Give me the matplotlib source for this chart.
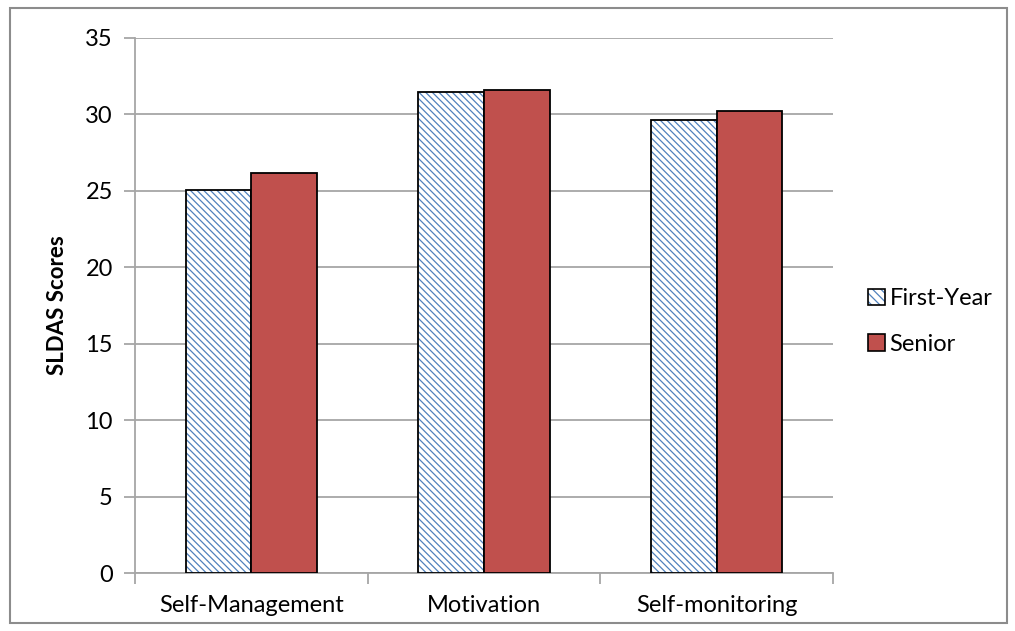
import numpy as np
import matplotlib.pyplot as plt
from matplotlib.patches import Rectangle

plt.rcParams['font.family'] = ['Lato', 'DejaVu Sans']
plt.rcParams['hatch.linewidth'] = 0.9

categories = ['Self-Management', 'Motivation', 'Self-monitoring']
first_year = [25.05, 31.45, 29.65]
senior = [26.15, 31.6, 30.2]
yticks = [0, 5, 10, 15, 20, 25, 30, 35]

grid_col = '#a6a6a6'
red = '#c0504d'
blue = '#4f81bd'
fs = 17

fig = plt.figure(figsize=(10.15, 6.31), dpi=100)
ax = fig.add_axes([0.133, 0.0919, 0.6877, 0.8479])

x = np.arange(len(categories))
w = 0.282
ax.bar(x - w / 2, first_year, w, facecolor='white', edgecolor=blue,
       hatch='\\' * 5, linewidth=0, zorder=3)
ax.bar(x - w / 2, first_year, w, facecolor='none', edgecolor='black',
       linewidth=1.3, zorder=4)
ax.bar(x + w / 2, senior, w, facecolor=red, edgecolor='black',
       linewidth=1.3, zorder=4)

ax.set_xlim(-0.5, 2.5)
ax.set_ylim(0, 35)
ax.set_yticks(yticks)
ax.set_yticklabels([str(v) for v in yticks], fontsize=fs)
ax.yaxis.grid(True, color=grid_col, linewidth=1.3, zorder=0)
ax.set_axisbelow(True)

# category labels centred, ticks on the boundaries
ax.set_xticks(x)
ax.set_xticklabels(categories, fontsize=fs)
ax.tick_params(axis='x', length=0, pad=16)
ax.set_xticks([-0.5, 0.5, 1.5, 2.5], minor=True)
ax.tick_params(axis='x', which='minor', length=8, color=grid_col, width=1.3)
ax.tick_params(axis='y', length=8, color=grid_col, width=1.3, pad=8)

for s in ['top', 'right']:
    ax.spines[s].set_visible(False)
for s in ['left', 'bottom']:
    ax.spines[s].set_color(grid_col)
    ax.spines[s].set_linewidth(1.3)

ax.set_ylabel('SLDAS Scores', fontsize=16, fontweight='bold', labelpad=12)

# legend swatches: hatched fill under a black outline
h1_fill = Rectangle((0, 0), 1, 1, facecolor='white', edgecolor=blue,
                    hatch='\\' * 4, linewidth=0)
h1_edge = Rectangle((0, 0), 1, 1, facecolor='none', edgecolor='black', linewidth=1.2)
h2 = Rectangle((0, 0), 1, 1, facecolor=red, edgecolor='black', linewidth=1.2)
leg = ax.legend([(h1_fill, h1_edge), h2], ['First-Year', 'Senior'],
                loc='center left', bbox_to_anchor=(1.02, 0.47), frameon=False,
                fontsize=fs, handlelength=0.7, handleheight=0.7,
                handletextpad=0.2, labelspacing=1.05)

fig.patches.append(Rectangle((0.01, 0.013), 0.982, 0.975, transform=fig.transFigure,
                             fill=False, edgecolor='#8c8c8c', linewidth=1.5))

fig.savefig('out.png', dpi=100)
